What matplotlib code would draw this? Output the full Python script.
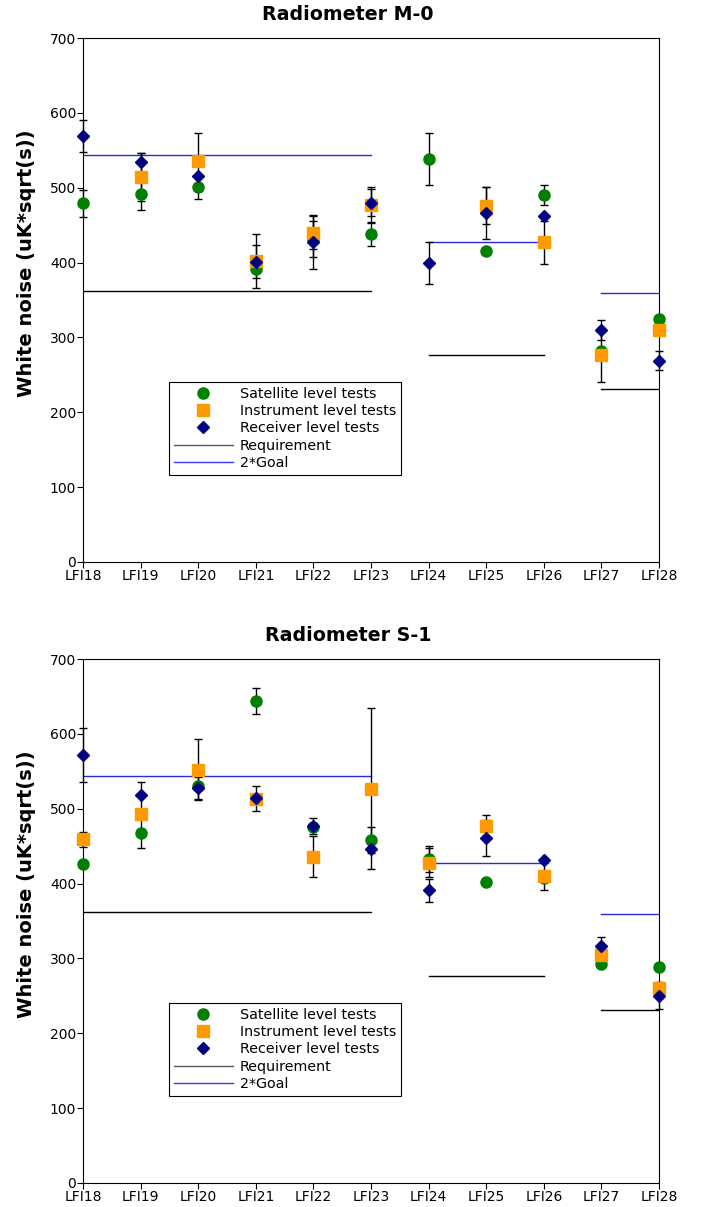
import numpy as np
import matplotlib.pyplot as plt

labels = ['LFI18', 'LFI19', 'LFI20', 'LFI21', 'LFI22', 'LFI23',
          'LFI24', 'LFI25', 'LFI26', 'LFI27', 'LFI28']
nan = np.nan

# Radiometer M-0
m0_sat = [479, 492, 501, 392, 431, 438, 538, 415, 490, 282, 325]
m0_sat_err = [18, 22, 16, nan, 24, 16, 35, nan, 13, nan, nan]
m0_inst = [nan, 514, 536, 402, 440, 477, nan, 476, 427, 277, 310]
m0_inst_err = [nan, 32, 37, 36, 22, 24, nan, 25, 29, 36, nan]
m0_rec = [569, 534, 515, 401, 427, 480, 400, 466, 462, 310, 269]
m0_rec_err = [21, 13, nan, 22, 36, 18, 28, 35, nan, 13, 13]

# Radiometer S-1
s1_sat = [426, 467, 531, 644, 475, 458, 433, 402, 408, 293, 288]
s1_sat_err = [nan, 19, nan, 17, nan, 17, 17, nan, nan, nan, nan]
s1_inst = [459, 493, 552, 513, 436, 527, 428, 477, 410, 305, 260]
s1_inst_err = [10, nan, 41, nan, 27, 108, 19, 15, 18, nan, nan]
s1_rec = [572, 518, 528, 514, 477, 446, 391, 461, 432, 316, 250]
s1_rec_err = [36, 18, 15, 17, 11, nan, 15, 24, nan, 13, 18]

# requirement / goal per group of radiometers (first, last index)
groups = [(0, 5), (6, 8), (9, 10)]
requirement = [362, 276, 231]
goal2 = [544, 428, 360]


def draw_panel(ax, title, sat, sat_err, inst, inst_err, rec, rec_err):
    x = np.arange(len(labels))
    for vals, errs in [(sat, sat_err), (inst, inst_err), (rec, rec_err)]:
        ax.errorbar(x, vals, yerr=errs, fmt='none', ecolor='black',
                    elinewidth=1, capsize=3, capthick=1, zorder=2, clip_on=False)
    ax.plot(x, sat, 'o', color='#008000', ms=8, ls='none', zorder=3,
            clip_on=False, label='Satellite level tests')
    ax.plot(x, inst, 's', color='#FF9900', ms=8, ls='none', zorder=4,
            clip_on=False, label='Instrument level tests')
    ax.plot(x, rec, 'D', color='#000080', ms=6, ls='none', zorder=5,
            clip_on=False, label='Receiver level tests')

    for i, (a, b) in enumerate(groups):
        ax.plot([a, b], [requirement[i], requirement[i]], color='black', lw=1,
                zorder=1, label='Requirement' if i == 0 else None)
        ax.plot([a, b], [goal2[i], goal2[i]], color='#2a2ad8', lw=1,
                zorder=1, label='2*Goal' if i == 0 else None)

    ax.set_xlim(0, 10)
    ax.set_ylim(0, 700)
    ax.set_xticks(x)
    ax.set_xticklabels(labels, fontsize=10)
    ax.set_yticks(range(0, 701, 100))
    ax.tick_params(axis='both', labelsize=10, length=4, pad=1)
    ax.set_title(title, fontsize=13.7, fontweight='bold', pad=13, x=0.46)
    ax.set_ylabel('White noise (uK*sqrt(s))', fontsize=14, fontweight='bold')
    ax.yaxis.set_label_coords(-0.082, 0.57)

    handles, names = ax.get_legend_handles_labels()
    leg = ax.legend(handles, names, loc='lower left', bbox_to_anchor=(0.149, 0.166),
                    borderaxespad=0, fontsize=10.3, handlelength=4.1,
                    labelspacing=0.23, borderpad=0.35, handletextpad=0.5,
                    fancybox=False, framealpha=1, edgecolor='black')
    leg.get_frame().set_linewidth(0.8)
    leg.legend_handles[3].set_color('#555555')
    leg.legend_handles[4].set_color('#3a3aff')


fig = plt.figure(figsize=(7.12, 12.07), dpi=100)
ax1 = fig.add_axes([0.1166, 0.5344, 0.809, 0.4341])
ax2 = fig.add_axes([0.1166, 0.0199, 0.809, 0.4341])

draw_panel(ax1, 'Radiometer M-0', m0_sat, m0_sat_err, m0_inst, m0_inst_err,
           m0_rec, m0_rec_err)
draw_panel(ax2, 'Radiometer S-1', s1_sat, s1_sat_err, s1_inst, s1_inst_err,
           s1_rec, s1_rec_err)

fig.savefig('out.png', dpi=100)
